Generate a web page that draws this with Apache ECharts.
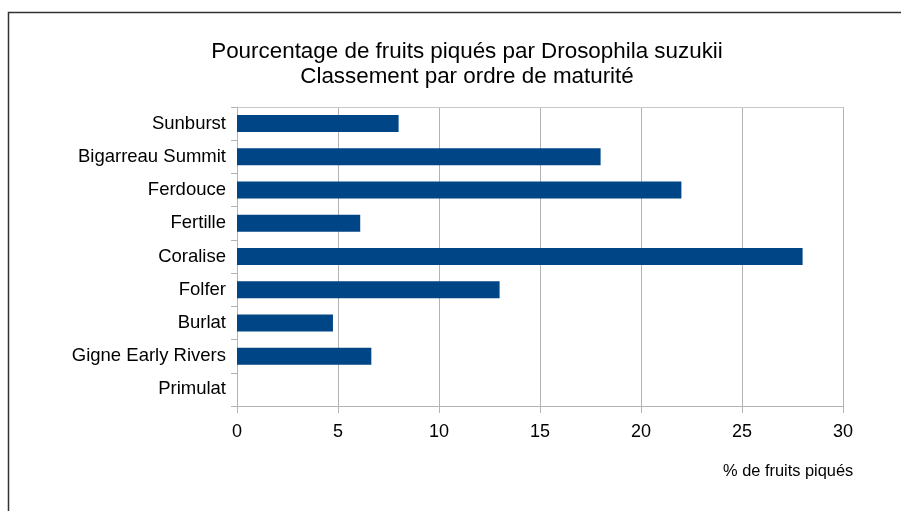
<!DOCTYPE html>
<html>
<head>
<meta charset="utf-8">
<script src="https://cdn.jsdelivr.net/npm/echarts@6/dist/echarts.min.js"></script>
<style>
  html, body { margin: 0; padding: 0; background: #fff; }
  #chart { width: 901px; height: 511px; }
</style>
</head>
<body>
<div id="chart"></div>
<script>
// variétés, classées par ordre de maturité
const varietes = [
  "Sunburst",
  "Bigarreau Summit",
  "Ferdouce",
  "Fertille",
  "Coralise",
  "Folfer",
  "Burlat",
  "Gigne Early Rivers",
  "Primulat"
];
// % de fruits piqués
const piques = [8, 18, 22, 6.1, 28, 13, 4.75, 6.65, 0];
const ticksX = [0, 5, 10, 15, 20, 25, 30];

const chart = echarts.init(document.getElementById("chart"));
const police = "Liberation Sans, Arial, sans-serif";
const gris = "#b3b3b3";

const option = {
  animation: false,
  backgroundColor: "#fff",
  textStyle: { fontFamily: police },
  title: {
    text: "Pourcentage de fruits piqués par Drosophila suzukii\nClassement par ordre de maturité",
    left: 462,
    top: 34,
    textAlign: "center",
    textStyle: {
      fontFamily: police,
      fontSize: 22.4,
      fontWeight: "normal",
      color: "#000",
      lineHeight: 25
    }
  },
  grid: { left: 237, right: 58, top: 107, bottom: 105, containLabel: false },
  xAxis: [
    {
      type: "value",
      min: ticksX[0],
      max: ticksX[ticksX.length - 1],
      interval: 5,
      axisLine: { show: true, lineStyle: { color: gris } },
      axisTick: { show: true, length: 7, lineStyle: { color: gris } },
      axisLabel: { margin: 17, fontSize: 18, color: "#000", fontFamily: police },
      splitLine: { show: true, lineStyle: { color: gris } }
    },
    {
      type: "value",
      position: "top",
      min: 0,
      max: 30,
      axisLine: { show: true, lineStyle: { color: "#c8c8c8" } },
      axisTick: { show: false },
      axisLabel: { show: false },
      splitLine: { show: false }
    }
  ],
  yAxis: {
    type: "category",
    inverse: true,
    data: varietes,
    axisLine: { show: true, lineStyle: { color: gris } },
    axisTick: { show: true, length: 6, lineStyle: { color: gris } },
    axisLabel: { margin: 11, fontSize: 18.5, color: "#000", fontFamily: police },
    splitLine: { show: false }
  },
  series: [
    {
      name: "% de fruits piqués",
      type: "bar",
      data: piques,
      barWidth: 17,
      itemStyle: { color: "#004586" }
    }
  ],
  graphic: [
    {
      type: "rect",
      shape: { x: 8.5, y: 12.5, width: 900, height: 520 },
      style: { fill: null, stroke: "#333", lineWidth: 1.5 },
      silent: true
    },
    {
      type: "text",
      left: 723,
      top: 463,
      style: { text: "% de fruits piqués", fontSize: 16.4, fill: "#000", fontFamily: police }
    }
  ]
};

chart.setOption(option);
</script>
</body>
</html>
